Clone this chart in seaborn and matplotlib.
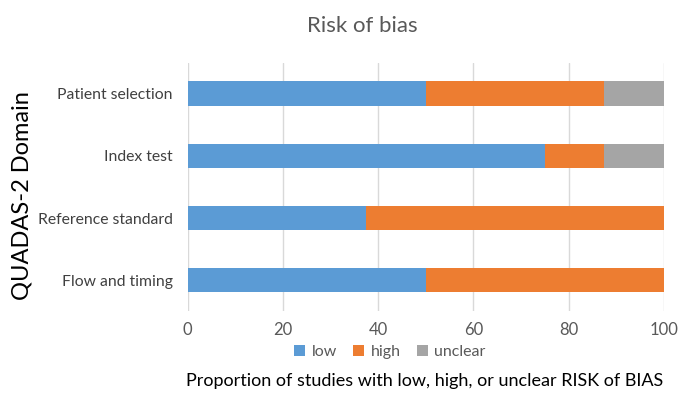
import matplotlib
matplotlib.use("Agg")
import matplotlib.pyplot as plt
import seaborn as sns
import pandas as pd
import numpy as np
from matplotlib.patches import Patch

categories = ["Patient selection", "Index test", "Reference standard", "Flow and timing"]
low = [50, 75, 37.5, 50]
high = [37.5, 12.5, 62.5, 50]
unclear = [12.5, 12.5, 0, 0]
series_names = ["low", "high", "unclear"]
colors = ["#5B9BD5", "#ED7D31", "#A5A5A5"]

sns.set_theme(style="white")
plt.rcParams["font.family"] = ["Lato", "DejaVu Sans"]

df = pd.DataFrame({"domain": categories, "low": low, "high": high, "unclear": unclear})
df["c_low"] = df["low"]
df["c_high"] = df["low"] + df["high"]
df["c_unclear"] = df["c_high"] + df["unclear"]

fig = plt.figure(figsize=(6.78, 4.03), dpi=100)
ax = fig.add_axes([0.277, 0.228, 0.702, 0.616])

for col, color in zip(["c_unclear", "c_high", "c_low"], colors[::-1]):
    sns.barplot(data=df, x=col, y="domain", order=categories, color=color,
                width=0.4, ax=ax, saturation=1, linewidth=0)

ax.set_xlim(0, 100)
ax.set_ylim(3.5, -0.5)
ax.set_xticks(np.arange(0, 101, 20))
ax.grid(axis="x", color="#D9D9D9", linewidth=1)
ax.set_axisbelow(True)
for s in ax.spines.values():
    s.set_visible(False)
ax.tick_params(axis="x", labelsize=12, colors="#595959", pad=8, length=0)
ax.tick_params(axis="y", labelsize=11.3, colors="#404040", pad=11, length=0)
ax.set_xlabel("")
ax.set_ylabel("")

fig.text(0.535, 0.936, "Risk of bias", ha="center", va="center", fontsize=16, color="#595959")
fig.text(0.032, 0.515, "QUADAS-2 Domain", ha="center", va="center", rotation=90, fontsize=17, color="black")
fig.text(0.627, 0.055, "Proportion of studies with low, high, or unclear RISK of BIAS",
         ha="center", va="center", fontsize=13, color="black")

handles = [Patch(facecolor=c, edgecolor="none") for c in colors]
fig.legend(handles, series_names, loc="center", bbox_to_anchor=(0.575, 0.127), ncol=3,
           frameon=False, fontsize=11.5, handlelength=0.7, handleheight=0.7,
           handletextpad=0.4, columnspacing=1.0, labelcolor="#595959")

fig.savefig("out.png", dpi=100)
